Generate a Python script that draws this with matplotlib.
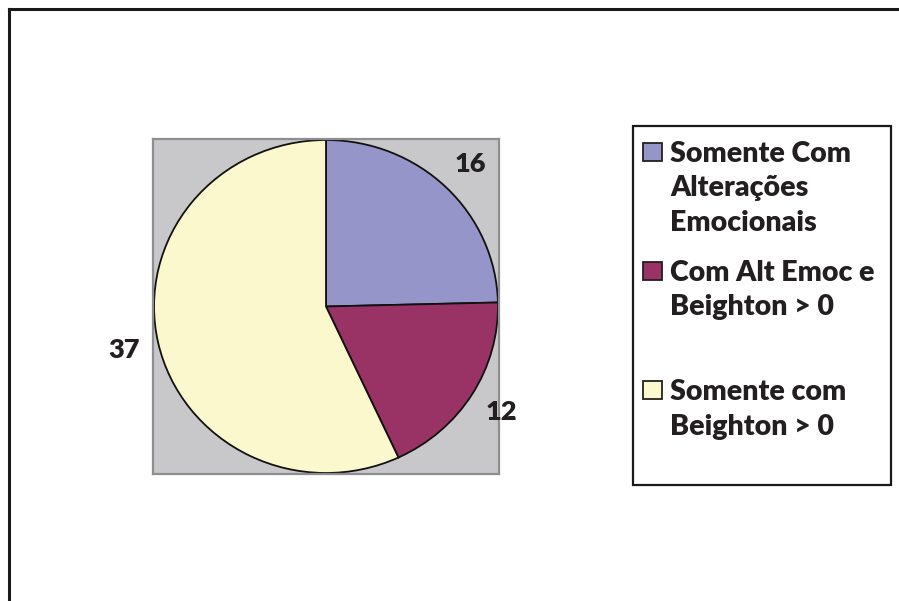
import matplotlib.pyplot as plt
from matplotlib.patches import Rectangle
from matplotlib.lines import Line2D

# data
labels = ['Somente Com\nAlterações\nEmocionais',
          'Com Alt Emoc e\nBeighton > 0',
          'Somente com\nBeighton > 0']
values = [16, 12, 37]
colors = ['#9595C9', '#993366', '#FCF8CE']

W, H = 899, 601
FONT = 'Lato'
WEIGHT = 'heavy'


def fx(x):
    return x / W


def fy(y):
    return 1 - y / H


fig = plt.figure(figsize=(W / 100, H / 100), dpi=100)

# outer frame (only top and left edges visible)
fig.add_artist(Line2D([fx(9), 1], [fy(9), fy(9)], color='#1a1a1a', lw=2.2))
fig.add_artist(Line2D([fx(9), fx(9)], [fy(9), 0], color='#1a1a1a', lw=2.2))

# plot area
ax = fig.add_axes([fx(153), fy(474), (499 - 153) / W, (474 - 139) / H])
wedges, texts = ax.pie(values, colors=colors, startangle=90, counterclock=False,
                       labels=[str(v) for v in values], labeldistance=1.2,
                       wedgeprops=dict(edgecolor='#111111', linewidth=1.3),
                       textprops=dict(fontsize=19.5, fontweight=WEIGHT,
                                      family=FONT, color='#231f20'))
for t in texts:
    t.set_ha('center')
    t.set_va('center')
ax.set_aspect('auto')
ax.set_xlim(-1.006, 1.006)
ax.set_ylim(-1.006, 1.006)
ax.set_frame_on(True)
ax.set_facecolor('#C8C8CA')
for s in ax.spines.values():
    s.set_color('#8E8E90')
    s.set_linewidth(1.6)
ax.set_xticks([])
ax.set_yticks([])

# legend box
fig.add_artist(Rectangle((fx(633), fy(485)), (891 - 633) / W, (485 - 126) / H,
                         transform=fig.transFigure, facecolor='white',
                         edgecolor='#1a1a1a', lw=1.6))
first_base = 162
slot = 119
pitch = 34.5
for i, (lab, col) in enumerate(zip(labels, colors)):
    base = first_base + i * slot
    fig.add_artist(Rectangle((fx(643), fy(base - 1)), 19 / W, 18 / H,
                             transform=fig.transFigure, facecolor=col,
                             edgecolor='#231f20', lw=1.3))
    for j, line in enumerate(lab.split('\n')):
        fig.text(fx(670), fy(base + j * pitch), line, ha='left', va='baseline',
                 fontsize=20.5, fontweight=WEIGHT, family=FONT, color='#231f20')

fig.savefig('out.png', dpi=100)
